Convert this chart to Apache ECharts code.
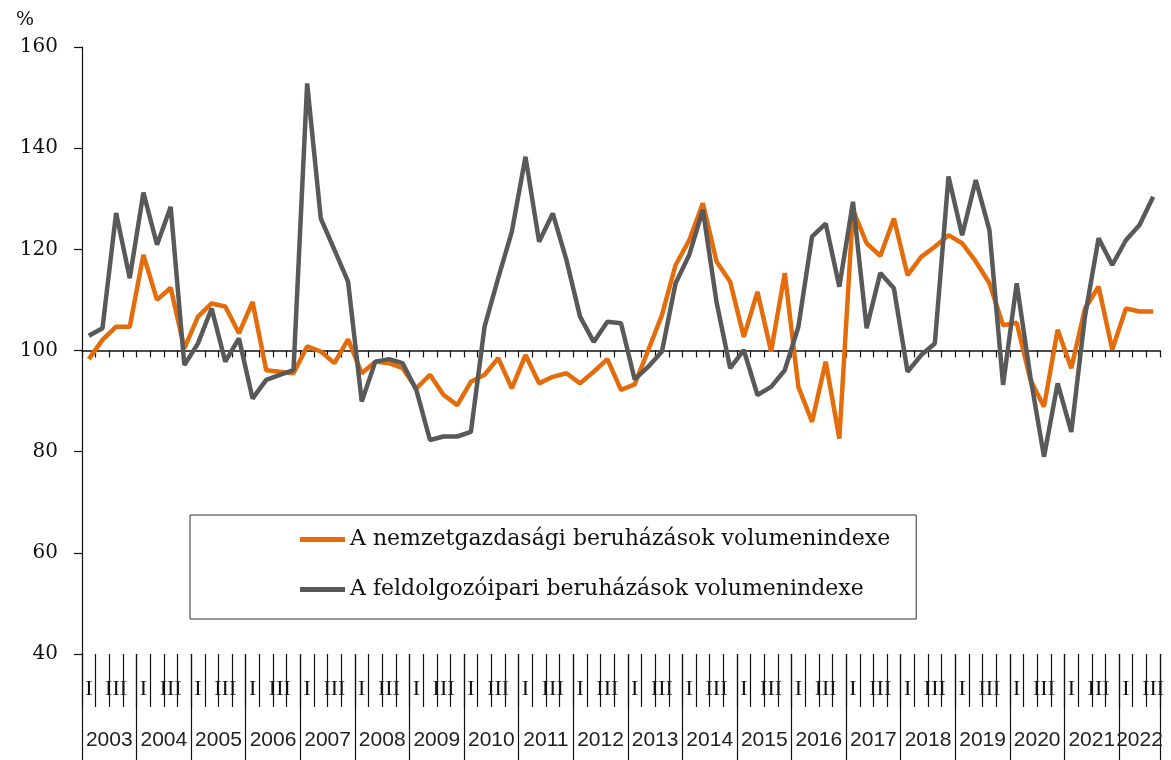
<!DOCTYPE html>
<html>
<head>
<meta charset="utf-8">
<script src="https://cdn.jsdelivr.net/npm/echarts@6/dist/echarts.min.js"></script>
<style>
  html, body { margin: 0; padding: 0; background: #fff; }
  #chart { width: 1171px; height: 760px; }
</style>
</head>
<body>
<div id="chart"></div>
<script>
// years on the axis, 2022 only has three quarters
const years = [2003, 2004, 2005, 2006, 2007, 2008, 2009, 2010, 2011, 2012,
  2013, 2014, 2015, 2016, 2017, 2018, 2019, 2020, 2021, 2022]
const quarterNames = ['I', 'II', 'III', 'IV']
const lastYearQuarters = 3

// A nemzetgazdasági beruházások volumenindexe (%)
const natlIndex = [
  98.3, 102.1, 104.7, 104.7, 118.9, 110.0, 112.4, 100.4,
  106.7, 109.3, 108.7, 103.4, 109.6, 96.1, 95.8, 95.5,
  100.8, 99.8, 97.5, 102.2, 95.5, 97.8, 97.5, 96.5,
  92.5, 95.2, 91.2, 89.2, 93.8, 95.2, 98.5, 92.5,
  99.1, 93.5, 94.8, 95.5, 93.5, 95.8, 98.3, 92.2,
  93.3, 100.1, 107.0, 116.9, 121.8, 129.1, 117.6, 113.6,
  102.7, 111.6, 99.8, 115.3, 92.8, 85.9, 97.8, 82.6,
  127.8, 121.2, 118.7, 126.1, 114.9, 118.5, 120.5, 122.8,
  121.2, 117.6, 113.3, 105.0, 105.5, 94.2, 88.9, 104.1,
  96.5, 108.3, 112.6, 100.2, 108.3, 107.7, 107.7
]

// A feldolgozóipari beruházások volumenindexe (%)
const manufIndex = [
  102.9, 104.4, 127.2, 114.3, 131.2, 120.9, 128.4, 97.1,
  101.4, 108.3, 97.8, 102.4, 90.5, 94.2, 95.2, 96.1,
  152.8, 126.1, 119.9, 113.6, 89.9, 97.8, 98.3, 97.5,
  92.2, 82.3, 83.0, 83.0, 83.9, 104.7, 114.3, 123.5,
  138.3, 121.5, 127.1, 117.9, 106.7, 101.7, 105.7, 105.4,
  94.3, 96.8, 99.8, 113.3, 118.9, 127.8, 109.6, 96.5,
  100.1, 91.2, 92.8, 96.1, 104.7, 122.5, 125.1, 112.6,
  129.4, 104.4, 115.3, 112.3, 95.8, 99.1, 101.4, 134.4,
  122.8, 133.7, 123.8, 93.2, 113.3, 94.8, 79.0, 93.5,
  83.9, 106.7, 122.2, 116.9, 121.8, 124.8, 130.4
]

// y axis
const yMin = 40
const yMax = 160
const yStep = 20
const baseLine = 100

const seriesNames = [
  'A nemzetgazdasági beruházások volumenindexe',
  'A feldolgozóipari beruházások volumenindexe'
]

const categories = []
years.forEach((y, yi) => {
  const n = yi === years.length - 1 ? lastYearQuarters : 4
  for (let q = 0; q < n; q++) categories.push(y + ' ' + quarterNames[q])
})
const nQ = categories.length

// centre of each year group, in quarter units
function yearCentre(yi) {
  const n = yi === years.length - 1 ? lastYearQuarters : 4
  return yi * 4 + n / 2
}

const serif = 'DejaVu Serif'
const black = '#111'

const option = {
  animation: false,
  title: {
    text: '%',
    left: 11,
    top: 6,
    textStyle: { fontFamily: serif, fontSize: 19, fontWeight: 'normal', color: black }
  },
  legend: {
    orient: 'vertical',
    left: 190,
    top: 515,
    padding: [11, 26, 16, 110],
    itemGap: 23,
    itemWidth: 45,
    itemHeight: 5,
    icon: 'rect',
    selectedMode: false,
    borderColor: '#333',
    borderWidth: 1,
    backgroundColor: '#fff',
    textStyle: { fontFamily: serif, fontSize: 22, color: black, lineHeight: 27 },
    data: seriesNames
  },
  grid: [
    { left: 82, right: 11, top: 47, bottom: 106 },
    // thin grid whose bottom edge sits on the 100 line
    { left: 82, right: 11, top: 340.5, height: 10 }
  ],
  xAxis: [
    {
      // quarters: I / III labels
      type: 'category',
      gridIndex: 0,
      data: categories,
      boundaryGap: true,
      axisLine: { show: false },
      axisTick: { show: true, interval: 0, length: 53, lineStyle: { color: black, width: 1.2 } },
      axisLabel: {
        interval: 0,
        margin: 24,
        fontFamily: 'Liberation Serif',
        fontSize: 22,
        color: black,
        formatter: v => {
          const q = v.split(' ')[1]
          return q === 'I' || q === 'III' ? q : ''
        }
      }
    },
    {
      // year separators
      type: 'value',
      gridIndex: 0,
      position: 'bottom',
      min: 0,
      max: nQ,
      interval: 4,
      axisLine: { show: false },
      axisTick: { show: true, length: 106, lineStyle: { color: black, width: 1.2 } },
      axisLabel: { show: false },
      splitLine: { show: false }
    },
    {
      // year labels
      type: 'value',
      gridIndex: 0,
      position: 'bottom',
      min: 0,
      max: nQ,
      interval: 0.5,
      axisLine: { show: false },
      axisTick: { show: false },
      splitLine: { show: false },
      axisLabel: {
        margin: 76,
        fontFamily: 'Liberation Sans',
        fontSize: 21,
        color: '#222',
        showMinLabel: true,
        showMaxLabel: true,
        formatter: v => {
          const yi = years.findIndex((y, i) => Math.abs(yearCentre(i) - v) < 1e-6)
          return yi >= 0 ? String(years[yi]) : ''
        }
      }
    },
    {
      // the 100 line with its quarter ticks
      type: 'category',
      gridIndex: 1,
      data: categories,
      boundaryGap: true,
      axisLine: { show: true, lineStyle: { color: black, width: 1.5 } },
      axisTick: { show: true, interval: 0, length: 7, lineStyle: { color: black, width: 1.2 } },
      axisLabel: { show: false }
    }
  ],
  yAxis: [
    {
      type: 'value',
      gridIndex: 0,
      min: yMin,
      max: yMax,
      interval: yStep,
      axisLine: { show: true, lineStyle: { color: black, width: 1.2 } },
      axisTick: { show: true, length: 8, lineStyle: { color: black, width: 1.2 } },
      axisLabel: { margin: 24, fontFamily: serif, fontSize: 20, color: black },
      splitLine: { show: false }
    },
    {
      type: 'value',
      gridIndex: 1,
      min: baseLine - 1,
      max: baseLine,
      show: false
    }
  ],
  series: [
    {
      name: seriesNames[0],
      type: 'line',
      xAxisIndex: 0,
      yAxisIndex: 0,
      data: natlIndex,
      symbol: 'none',
      color: '#E46C0A',
      lineStyle: { width: 4.5, color: '#E46C0A' },
      z: 3
    },
    {
      name: seriesNames[1],
      type: 'line',
      xAxisIndex: 0,
      yAxisIndex: 0,
      data: manufIndex,
      symbol: 'none',
      color: '#595959',
      lineStyle: { width: 4.5, color: '#595959' },
      z: 4
    }
  ]
}

const chart = echarts.init(document.getElementById('chart'), null, { renderer: 'canvas' })
chart.setOption(option)
</script>
</body>
</html>
